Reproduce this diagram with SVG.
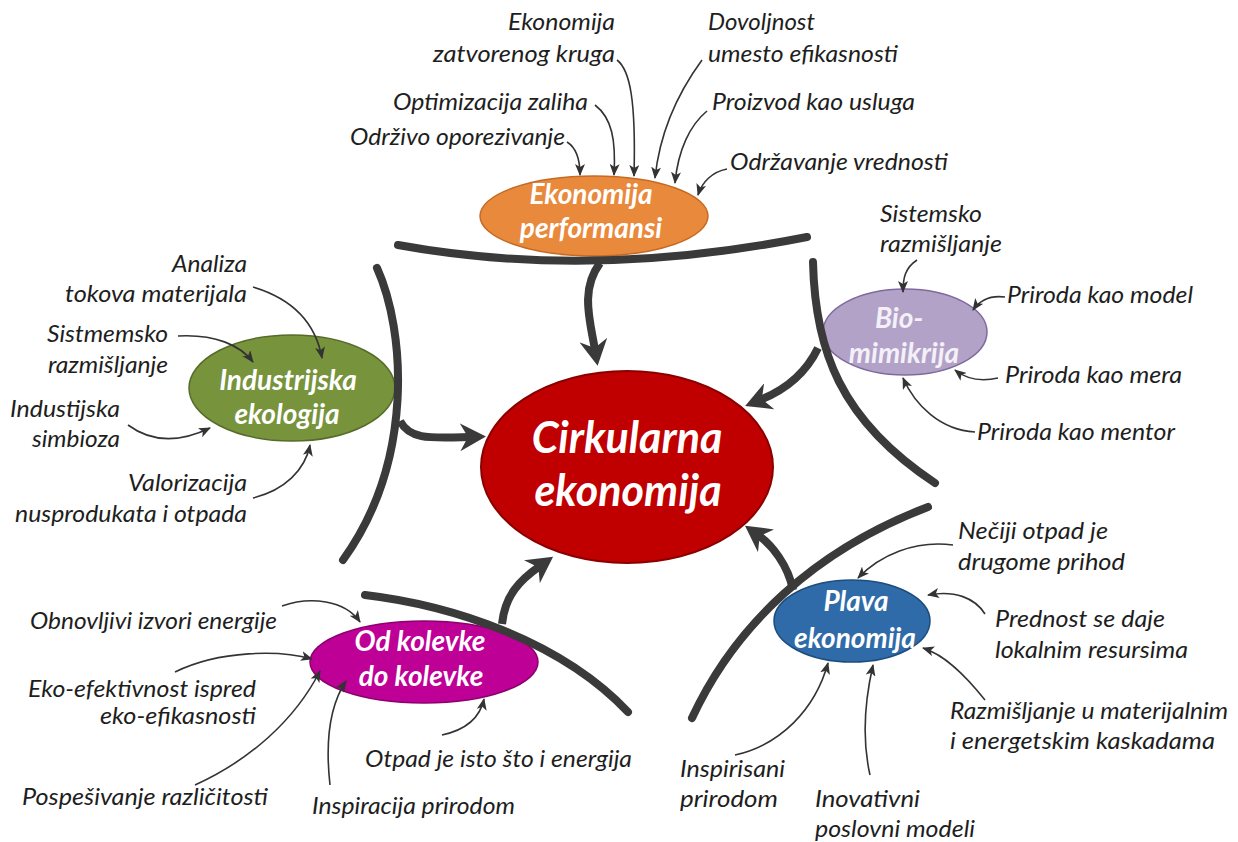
<svg xmlns="http://www.w3.org/2000/svg" width="1238" height="842" viewBox="0 0 1238 842">
<defs>
<style>
.lbl{font-family:Lato,"Open Sans","DejaVu Sans",sans-serif;font-style:italic;font-size:23.5px;fill:#1e1e1e}
.nt{font-family:Lato,"Open Sans","DejaVu Sans",sans-serif;font-style:italic;font-weight:bold;font-size:28px;fill:#fff;text-anchor:middle}
.ct{font-family:Lato,"Open Sans","DejaVu Sans",sans-serif;font-style:italic;font-weight:bold;font-size:43px;fill:#fff;text-anchor:middle}
.thin{fill:none;stroke:#333;stroke-width:1.6;marker-end:url(#ah)}
.arc{fill:none;stroke:#3a3a3a;stroke-width:8;stroke-linecap:round}
.big{fill:none;stroke:#3a3a3a;stroke-width:8;stroke-linecap:butt;marker-end:url(#bh)}
.r{text-anchor:end}
</style>
<marker id="ah" viewBox="0 0 12 10" refX="11" refY="5" markerWidth="12" markerHeight="10" markerUnits="userSpaceOnUse" orient="auto">
<path d="M0,0 L12,5 L0,10 L3,5 Z" fill="#333"/>
</marker>
<marker id="bh" viewBox="0 0 26 28" refX="10" refY="14" markerWidth="26" markerHeight="28" markerUnits="userSpaceOnUse" orient="auto">
<path d="M0,0 L26,14 L0,28 L8,14 Z" fill="#3a3a3a"/>
</marker>
</defs>
<rect width="1238" height="842" fill="#fff"/>

<g id="center">
<ellipse cx="627" cy="467" rx="146" ry="96" fill="#C00000" stroke="#8A0000" stroke-width="2"/>
<text class="ct" x="627" y="453">Cirkularna</text>
<text class="ct" x="628" y="506">ekonomija</text>
</g>

<g id="ekonomija-performansi">
<ellipse cx="594" cy="216" rx="114" ry="40" fill="#E9893B" stroke="#C56A25" stroke-width="1.5"/>
<text class="nt" x="591" y="204">Ekonomija</text>
<text class="nt" x="591" y="238">performansi</text>
</g>

<g id="industrijska-ekologija">
<ellipse cx="292" cy="388" rx="103" ry="53" fill="#77933C" stroke="#566B2A" stroke-width="1.5"/>
<text class="nt" x="288" y="390">Industrijska</text>
<text class="nt" x="287" y="424">ekologija</text>
</g>

<g id="biomimikrija">
<ellipse cx="905" cy="332" rx="82" ry="43" fill="#B3A2C7" stroke="#7F6A9E" stroke-width="1.5"/>
<text class="nt" x="899" y="328" style="fill:#F4F0F8">Bio-</text>
<text class="nt" x="904" y="363" style="fill:#F4F0F8">mimikrija</text>
</g>

<g id="od-kolevke">
<ellipse cx="424" cy="662" rx="114" ry="41" fill="#BF0096" stroke="#8C006E" stroke-width="1.5"/>
<text class="nt" x="420" y="651">Od kolevke</text>
<text class="nt" x="421" y="686">do kolevke</text>
</g>

<g id="plava-ekonomija">
<ellipse cx="852" cy="621" rx="78" ry="41" fill="#2F6BA8" stroke="#1E4C7C" stroke-width="1.5"/>
<text class="nt" x="856" y="611">Plava</text>
<text class="nt" x="855" y="648">ekonomija</text>
</g>

<g id="labels">
<text class="lbl r" x="615" y="30" textLength="107" lengthAdjust="spacingAndGlyphs">Ekonomija</text>
<text class="lbl r" x="615" y="62" textLength="182" lengthAdjust="spacingAndGlyphs">zatvorenog kruga</text>
<text class="lbl" x="708" y="30" textLength="107" lengthAdjust="spacingAndGlyphs">Dovoljnost</text>
<text class="lbl" x="708" y="62" textLength="190" lengthAdjust="spacingAndGlyphs">umesto efikasnosti</text>
<text class="lbl r" x="588" y="110" textLength="195" lengthAdjust="spacingAndGlyphs">Optimizacija zaliha</text>
<text class="lbl" x="712" y="110" textLength="203" lengthAdjust="spacingAndGlyphs">Proizvod kao usluga</text>
<text class="lbl r" x="565" y="145" textLength="215" lengthAdjust="spacingAndGlyphs">Održivo oporezivanje</text>
<text class="lbl" x="730" y="170" textLength="218" lengthAdjust="spacingAndGlyphs">Održavanje vrednosti</text>

<text class="lbl r" x="247" y="272" textLength="75" lengthAdjust="spacingAndGlyphs">Analiza</text>
<text class="lbl r" x="247" y="302" textLength="182" lengthAdjust="spacingAndGlyphs">tokova materijala</text>
<text class="lbl r" x="168" y="342" textLength="121" lengthAdjust="spacingAndGlyphs">Sistmemsko</text>
<text class="lbl r" x="168" y="373" textLength="120" lengthAdjust="spacingAndGlyphs">razmišljanje</text>
<text class="lbl r" x="120" y="417" textLength="110" lengthAdjust="spacingAndGlyphs">Industijska</text>
<text class="lbl r" x="120" y="447" textLength="88" lengthAdjust="spacingAndGlyphs">simbioza</text>
<text class="lbl r" x="247" y="491" textLength="119" lengthAdjust="spacingAndGlyphs">Valorizacija</text>
<text class="lbl r" x="247" y="522" textLength="232" lengthAdjust="spacingAndGlyphs">nusprodukata i otpada</text>

<text class="lbl" x="880" y="222" textLength="102" lengthAdjust="spacingAndGlyphs">Sistemsko</text>
<text class="lbl" x="880" y="252" textLength="122" lengthAdjust="spacingAndGlyphs">razmišljanje</text>
<text class="lbl" x="1007" y="303" textLength="186" lengthAdjust="spacingAndGlyphs">Priroda kao model</text>
<text class="lbl" x="1005" y="383" textLength="177" lengthAdjust="spacingAndGlyphs">Priroda kao mera</text>
<text class="lbl" x="977" y="440" textLength="198" lengthAdjust="spacingAndGlyphs">Priroda kao mentor</text>

<text class="lbl" x="30" y="629" textLength="247" lengthAdjust="spacingAndGlyphs">Obnovljivi izvori energije</text>
<text class="lbl r" x="256" y="697" textLength="228" lengthAdjust="spacingAndGlyphs">Eko-efektivnost ispred</text>
<text class="lbl r" x="256" y="724" textLength="156" lengthAdjust="spacingAndGlyphs">eko-efikasnosti</text>
<text class="lbl" x="22" y="805" textLength="246" lengthAdjust="spacingAndGlyphs">Pospešivanje različitosti</text>
<text class="lbl" x="312" y="814" textLength="203" lengthAdjust="spacingAndGlyphs">Inspiracija prirodom</text>
<text class="lbl" x="365" y="767" textLength="267" lengthAdjust="spacingAndGlyphs">Otpad je isto što i energija</text>

<text class="lbl" x="958" y="539" textLength="150" lengthAdjust="spacingAndGlyphs">Nečiji otpad je</text>
<text class="lbl" x="958" y="570" textLength="167" lengthAdjust="spacingAndGlyphs">drugome prihod</text>
<text class="lbl" x="995" y="627" textLength="170" lengthAdjust="spacingAndGlyphs">Prednost se daje</text>
<text class="lbl" x="995" y="658" textLength="193" lengthAdjust="spacingAndGlyphs">lokalnim resursima</text>
<text class="lbl" x="950" y="719" textLength="278" lengthAdjust="spacingAndGlyphs">Razmišljanje u materijalnim</text>
<text class="lbl" x="950" y="749" textLength="265" lengthAdjust="spacingAndGlyphs">i energetskim kaskadama</text>
<text class="lbl" x="680" y="777" textLength="105" lengthAdjust="spacingAndGlyphs">Inspirisani</text>
<text class="lbl" x="680" y="807" textLength="98" lengthAdjust="spacingAndGlyphs">prirodom</text>
<text class="lbl" x="815" y="807" textLength="105" lengthAdjust="spacingAndGlyphs">Inovativni</text>
<text class="lbl" x="815" y="837" textLength="160" lengthAdjust="spacingAndGlyphs">poslovni modeli</text>
</g>

<g id="connectors">
<path class="arc" d="M398,245 Q590,280 807,237"/>
<path class="big" d="M600,263 C580,290 590,320 595,350"/>
<path class="arc" d="M377,268 C405,330 415,460 343,560"/>
<path class="big" d="M400,421 C410,440 430,438 470,437"/>
<path class="arc" d="M813,262 C815,350 840,420 935,483"/>
<path class="big" d="M818,348 C805,375 785,390 760,400"/>
<path class="arc" d="M365,595 C450,605 560,640 628,712"/>
<path class="big" d="M502,624 C505,595 520,580 540,566"/>
<path class="arc" d="M692,718 C735,625 815,550 928,507"/>
<path class="big" d="M793,590 C788,565 772,545 758,535"/>

<path class="thin" d="M567,142 Q580,150 580,175"/>
<path class="thin" d="M595,105 C612,118 616,140 614,175"/>
<path class="thin" d="M617,60 C630,70 636,100 634,176"/>
<path class="thin" d="M702,60 C680,90 660,130 655,178"/>
<path class="thin" d="M707,111 C690,125 678,150 675,183"/>
<path class="thin" d="M727,169 C712,172 702,182 698,195"/>

<path class="thin" d="M253,287 C290,298 315,320 322,358"/>
<path class="thin" d="M178,336 C215,334 240,345 253,362"/>
<path class="thin" d="M128,425 C155,445 185,440 210,428"/>
<path class="thin" d="M253,498 C285,490 305,470 310,445"/>

<path class="thin" d="M917,260 C905,268 903,278 903,292"/>
<path class="thin" d="M1005,297 C990,295 980,300 973,310"/>
<path class="thin" d="M998,378 C980,382 965,378 955,370"/>
<path class="thin" d="M975,432 C940,430 915,405 903,378"/>

<path class="thin" d="M282,606 C310,596 345,600 360,622"/>
<path class="thin" d="M175,672 C220,650 280,650 312,659"/>
<path class="thin" d="M195,785 C250,760 295,720 320,671"/>
<path class="thin" d="M330,785 C325,740 330,705 346,681"/>
<path class="thin" d="M442,735 C465,730 480,718 484,699"/>

<path class="thin" d="M953,545 C915,540 880,555 858,578"/>
<path class="thin" d="M985,614 C975,598 955,590 928,595"/>
<path class="thin" d="M985,700 C965,675 945,655 923,648"/>
<path class="thin" d="M735,755 C780,745 815,710 828,663"/>
<path class="thin" d="M870,775 C862,740 865,700 873,665"/>
</g>
</svg>
